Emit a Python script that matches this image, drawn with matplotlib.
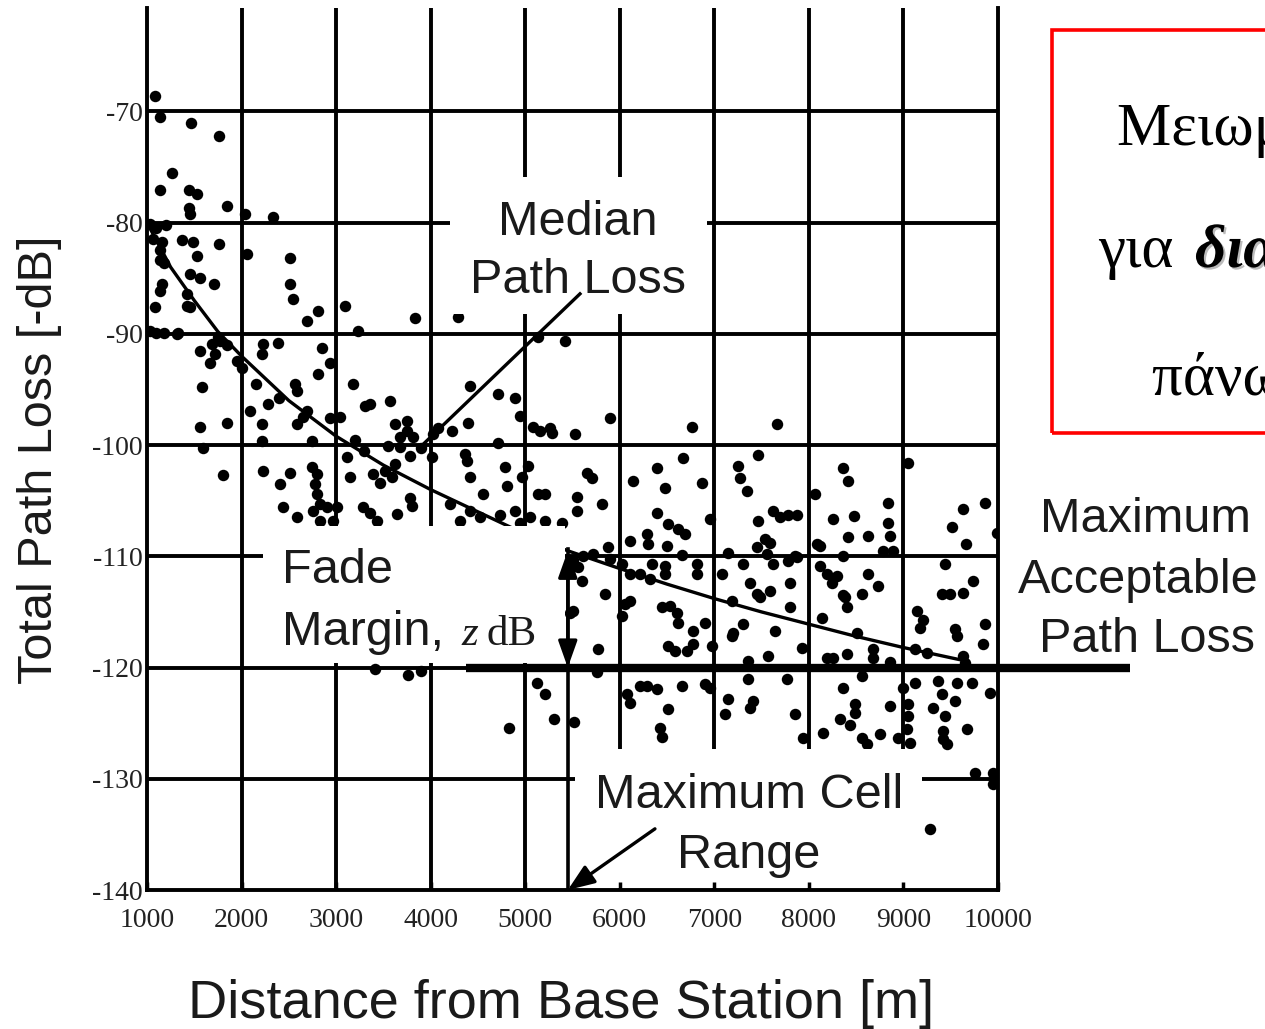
import numpy as np
import matplotlib
matplotlib.use("Agg")
import matplotlib.pyplot as plt
import matplotlib.patheffects as pe
from matplotlib.patches import Rectangle

W, H = 1265, 1029

X_TICKS = [1000, 2000, 3000, 4000, 5000, 6000, 7000, 8000, 9000, 10000]
Y_TICKS = [-140, -130, -120, -110, -100, -90, -80, -70]

# median path loss curve
MEDIAN_D = [1000, 1250, 1500, 1750, 2000, 2500, 3000, 3500, 4000, 4500,
            5000, 5450, 6000, 6500, 7000, 7500, 8000, 8500, 9000, 9600]
MEDIAN_L = [-80.0, -84.0, -87.0, -89.8, -92.0, -96.0, -99.2, -101.8, -104.0, -106.0,
            -108.0, -109.5, -111.1, -112.5, -113.8, -115.0, -116.1, -117.2, -118.2, -119.3]

MAX_LOSS = -120       # maximum acceptable path loss
FADE_TOP = -109.5     # median loss at the cell edge
CELL_RANGE = 5450     # maximum cell range

# measured samples (distance m, loss dB)
CLOSE = [
    (1085, -68.6), (1137, -70.5), (1465, -71.0), (1761, -72.2), (1264, -75.5), (1137, -77.1),
    (1444, -77.1), (1529, -77.4), (1444, -78.7), (1455, -79.2), (1846, -78.5), (2036, -79.2),
    (2332, -79.5), (1030, -80.1), (1100, -80.5), (1200, -80.2), (1060, -81.5), (1158, -81.7),
    (1370, -81.6), (1486, -81.7), (1761, -81.9), (1137, -82.5), (1180, -83.6), (1137, -83.4),
    (1529, -83.0), (2057, -82.8), (2512, -83.2), (1455, -84.6), (1560, -85.0), (1709, -85.5),
    (1158, -85.5), (1137, -86.1), (1423, -86.4), (1420, -87.5), (2512, -85.5), (1085, -87.6),
    (1455, -87.6), (2544, -86.9), (2808, -87.9), (2692, -88.8), (1030, -89.7), (1090, -89.9),
    (1180, -89.9), (1328, -89.9), (1750, -90.3), (1317, -90.0), (1560, -91.5), (1687, -90.9),
    (1772, -90.6), (1846, -91.0), (1666, -92.6), (1719, -91.8), (1952, -92.4), (2005, -93.1),
    (1582, -94.8), (1560, -98.4), (1846, -98.0), (1592, -100.3), (1804, -102.7), (2227, -90.9),
    (2216, -91.8), (2385, -90.8), (2850, -91.3), (2935, -92.6), (2808, -93.6), (2565, -94.5),
    (2586, -95.1), (2150, -94.5), (2400, -95.8), (2089, -96.9), (2280, -96.3), (2216, -98.1),
    (2586, -98.1), (2692, -96.9), (2650, -97.5), (2935, -97.6), (2216, -99.6), (2745, -99.6),
    (2227, -102.3), (2407, -103.5), (2512, -102.5), (2745, -102.0), (2798, -102.6), (2776, -103.5),
    (2798, -104.4), (2830, -105.3), (2438, -105.6), (2586, -106.5), (2755, -105.9), (2903, -105.6),
    (2830, -106.8), (2966, -106.8),
]

MID = [
    (3094, -87.5), (3834, -88.6), (4289, -88.5), (3231, -89.7), (3041, -97.5), (3178, -94.5),
    (3305, -96.5), (3358, -96.3), (3570, -96.0), (3622, -98.1), (3750, -97.8), (3750, -98.7),
    (3675, -99.3), (3813, -99.3), (3200, -99.5), (3300, -100.5), (3900, -100.3), (3549, -100.1),
    (3675, -100.2), (3781, -101.0), (3622, -101.7), (3517, -102.3), (3115, -101.1), (3147, -102.9),
    (3390, -102.6), (3464, -103.4), (3591, -102.9), (3009, -105.6), (3284, -105.6), (3358, -106.1),
    (3432, -106.8), (3644, -106.2), (3781, -104.8), (3802, -105.5), (4014, -101.1), (4225, -98.7),
    (4395, -98.0), (4416, -94.7), (4024, -99.0), (4077, -98.5), (4363, -100.8), (4384, -101.4),
    (4416, -102.9), (4712, -95.4), (4892, -95.8), (4712, -99.8), (4786, -102.0), (4807, -103.7),
    (4553, -104.4), (4945, -97.4), (5029, -101.9), (4966, -102.9), (5135, -104.4), (5209, -104.4),
    (5082, -98.4), (5156, -98.7), (5262, -98.5), (5283, -98.9), (5526, -99.0), (5420, -90.6),
    (5135, -90.3), (4204, -105.3), (4416, -105.9), (4522, -106.5), (4733, -106.3), (4892, -105.9),
    (5050, -106.5), (4945, -107.0), (4310, -106.8), (5388, -107.0), (5209, -106.8), (5547, -104.7),
    (5547, -105.9), (3408, -120.1), (3764, -120.7), (3898, -120.3), (4824, -125.4), (5126, -121.4),
    (5209, -122.4), (5300, -124.6), (5511, -124.9),
]

FAR_HIGH = [
    (5896, -97.6), (6763, -98.4), (7662, -98.1), (5653, -102.5), (5706, -103.0), (5812, -105.3),
    (6139, -103.2), (6393, -102.1), (6478, -103.9), (6393, -106.1), (6510, -107.1), (6616, -107.5),
    (6689, -108.0), (6668, -101.2), (6869, -103.4), (6954, -106.6), (6108, -108.6), (6288, -108.0),
    (6298, -108.9), (6499, -109.1), (6658, -109.9), (7250, -101.9), (7271, -103.0), (7345, -104.1),
    (7461, -100.9), (7620, -105.9), (7694, -106.5), (7779, -106.3), (7874, -106.3), (7461, -106.8),
    (7535, -108.4), (7588, -108.8), (8085, -108.9), (7144, -109.7), (7450, -109.2), (7556, -109.8),
    (7853, -110.0), (8064, -104.4), (8360, -102.1), (8413, -103.2), (8255, -106.6), (8477, -106.4),
    (8413, -108.3), (8625, -108.2), (8836, -105.2), (8836, -107.0), (8858, -108.2), (8117, -109.1),
    (8360, -110.0), (8783, -109.5), (8889, -109.5), (9048, -101.6), (9629, -105.7), (9862, -105.2),
    (9513, -107.4), (9661, -108.9), (9989, -107.9),
]

FAR_MID = [
    (5500, -110.3), (5560, -111.0), (5611, -110.0), (5717, -109.8), (5875, -109.2), (5900, -110.2),
    (5600, -112.2), (5843, -113.4), (6023, -110.7), (6108, -111.6), (6214, -111.6), (6320, -112.0),
    (6478, -111.6), (6341, -110.7), (6478, -110.9), (6816, -110.7), (6816, -111.6), (7080, -111.6),
    (7303, -110.7), (7377, -112.4), (7450, -113.4), (7588, -113.1), (7620, -110.7), (7779, -110.4),
    (7874, -110.1), (7800, -112.4), (8117, -110.9), (8191, -111.6), (8297, -111.8), (8244, -112.4),
    (8360, -113.5), (8561, -113.4), (8625, -111.6), (8730, -112.7), (9439, -110.7), (9735, -112.2),
    (9407, -113.4), (9492, -113.4), (9629, -113.3), (6055, -114.3), (6108, -114.0), (6023, -115.4),
    (5505, -114.9), (5473, -115.1), (5770, -118.3), (6446, -114.6), (6531, -114.5), (6605, -115.1),
    (6615, -116.0), (6901, -116.0), (6774, -116.7), (6510, -118.1), (6584, -118.5), (6711, -118.5),
    (6774, -117.9), (6975, -118.1), (7186, -114.0), (7482, -113.7), (7303, -116.1), (7197, -116.9),
    (7186, -117.2), (7641, -116.7), (7356, -119.4), (7567, -119.0), (7800, -114.6), (7927, -118.2),
    (8138, -115.5), (8191, -119.1), (8255, -119.1), (8403, -118.8), (8382, -113.7), (8403, -114.6),
    (8508, -116.9), (8678, -118.3), (8678, -119.1), (8858, -119.5), (9143, -114.9), (9175, -116.4),
    (9206, -115.7), (9545, -116.5), (9566, -117.2), (9862, -116.1), (9841, -117.9), (9122, -118.3),
    (9249, -118.7), (9629, -119.0), (9650, -119.6),
]

FAR_LOW = [
    (5754, -120.4), (6076, -122.4), (6108, -123.2), (6214, -121.7), (6288, -121.7), (6393, -121.9),
    (6658, -121.7), (6901, -121.5), (6954, -121.8), (6510, -123.7), (6425, -125.4), (6446, -126.2),
    (7144, -122.8), (7112, -124.2), (7408, -123.0), (7377, -123.6), (7356, -121.0), (7768, -121.0),
    (7853, -124.2), (7937, -126.3), (8149, -125.9), (8360, -121.8), (8329, -124.6), (8435, -125.2),
    (8487, -123.3), (8487, -124.1), (8561, -120.8), (8561, -126.3), (8614, -126.9), (8752, -126.0),
    (8858, -123.5), (8942, -126.3), (8995, -121.8), (9048, -123.3), (9048, -124.4), (9037, -125.5),
    (9069, -126.8), (9122, -121.4), (9365, -121.2), (9407, -122.4), (9566, -121.4), (9725, -121.4),
    (9312, -123.6), (9439, -124.4), (9545, -123.0), (9915, -122.3), (9418, -125.7), (9418, -126.4),
    (9460, -126.9), (9672, -125.5), (9756, -129.5), (9947, -129.5), (9947, -130.5), (9280, -134.5),
]

INK = "#1a1a1a"
SANS = ["Liberation Sans", "DejaVu Sans"]
SERIF = ["Liberation Serif", "DejaVu Serif"]

plt.rcParams["font.family"] = SANS
plt.rcParams["axes.unicode_minus"] = False


def fx(px):
    return px / W


def fy(py):
    return 1 - py / H


def main():
    fig = plt.figure(figsize=(W / 100, H / 100), dpi=100)
    ax = fig.add_axes([fx(147), fy(890), (998 - 147) / W, (890 - 8) / H])
    ax.set_xlim(1000, 10000)
    ax.set_ylim(-140, -60.7)

    # heavy grid, drawn by hand so the label masks can sit on top of it
    for x in X_TICKS[1:-1]:
        ax.axvline(x, color="black", lw=2.8, zorder=1)
    for y in Y_TICKS[1:]:
        ax.axhline(y, color="black", lw=2.8, zorder=1)

    pts = np.array(CLOSE + MID + FAR_HIGH + FAR_MID + FAR_LOW)
    ax.scatter(pts[:, 0], pts[:, 1], s=68, c="black", marker="o", lw=0, zorder=2)

    ax.plot(MEDIAN_D, MEDIAN_L, color="black", lw=2.4, zorder=2.05)

    # white label backgrounds (d0, d1, l0, l1)
    for d0, d1, l0, l1 in [(4204, 6922, -88.2, -75.9),
                           (2227, 5421, -119.6, -107.3),
                           (5526, 9196, -139.8, -127.3)]:
        ax.add_patch(Rectangle((d0, l0), d1 - d0, l1 - l0, fc="white", ec="none", zorder=2.2))

    for side in ("left", "right", "bottom"):
        ax.spines[side].set_linewidth(2.8)
    ax.spines["top"].set_visible(False)
    ax.set_axisbelow(False)

    ax.set_xticks(X_TICKS)
    ax.set_xticklabels([str(v) for v in X_TICKS], fontfamily=SERIF, fontsize=20, color="#222222")
    ax.set_yticks(Y_TICKS)
    ax.set_yticklabels([str(v) for v in Y_TICKS], fontfamily=SERIF, fontsize=20, color="#222222")
    ax.tick_params(axis="x", direction="in", length=6, width=2.5, pad=13)
    ax.tick_params(axis="y", length=0, pad=3)

    # maximum acceptable path loss line, runs past the frame
    ax.plot([0.375, 1.155], [MAX_LOSS, MAX_LOSS], transform=ax.get_yaxis_transform(),
            color="black", lw=6, clip_on=False, solid_capstyle="butt", zorder=3)

    # fade margin arrow and cell range marker
    ax.plot([CELL_RANGE, CELL_RANGE], [FADE_TOP + 0.2, -140], color="black", lw=2.6, zorder=3)
    ax.annotate("", xy=(CELL_RANGE, FADE_TOP), xytext=(CELL_RANGE, MAX_LOSS),
                arrowprops=dict(arrowstyle="<|-|>,head_length=0.9,head_width=0.32",
                                color="black", lw=2.4, mutation_scale=18,
                                shrinkA=0, shrinkB=0), zorder=3)
    ax.annotate("", xy=(CELL_RANGE, -140), xytext=(6372, -134.5),
                arrowprops=dict(arrowstyle="-|>,head_length=0.9,head_width=0.35",
                                color="black", lw=2.4, mutation_scale=18,
                                shrinkA=0, shrinkB=0), zorder=3, annotation_clip=False)
    # median leader line
    ax.plot([5579, 3887], [-86.4, -100.2], color="black", lw=2.4, zorder=3)

    txt = dict(color=INK, fontsize=35, va="baseline", zorder=4)
    fig.text(fx(578), fy(235), "Median", ha="center", **txt)
    fig.text(fx(578), fy(293), "Path Loss", ha="center", **txt)
    fig.text(fx(282), fy(583), "Fade", ha="left", **txt)
    fig.text(fx(282), fy(645), "Margin,", ha="left", **txt)
    fig.text(fx(461), fy(645), "z", ha="left", color=INK, fontsize=31, va="baseline",
             family=SERIF, style="italic")
    fig.text(fx(487), fy(645), "dB", ha="left", color=INK, fontsize=31, va="baseline",
             family=SERIF)
    fig.text(fx(749), fy(808), "Maximum Cell", ha="center", **txt)
    fig.text(fx(749), fy(868), "Range", ha="center", **txt)
    fig.text(fx(1146), fy(532), "Maximum", ha="center", **txt)
    fig.text(fx(1138), fy(593), "Acceptable", ha="center", **txt)
    fig.text(fx(1147), fy(652), "Path Loss", ha="center", **txt)

    fig.text(fx(40), fy(460), "Total Path Loss [-dB]", rotation=90, ha="center", va="center",
             fontsize=35, color=INK)
    fig.text(fx(561), fy(1004), "Distance from Base Station [m]", ha="center", va="center",
             fontsize=39, color=INK)

    # red call-out box on the right, cut off by the page edge as in the source slide
    fig.add_artist(Rectangle((fx(1052), fy(433)), (1400 - 1052) / W, (433 - 30) / H,
                             transform=fig.transFigure, fill=False, ec="#ff0000", lw=2.6))
    greek = dict(family=SERIF, fontsize=44, color="black", va="baseline", ha="left")
    fig.text(fx(1117), fy(145), "Μειωμένη εμβέλεια", **greek)
    fig.text(fx(1098), fy(267), "για ", **greek)
    fig.text(fx(1195), fy(267), "διαλείψεις", weight="bold", style="italic",
             path_effects=[pe.SimplePatchShadow(offset=(1.5, -1.5), shadow_rgbFace="#aaaaaa",
                                                alpha=0.8), pe.Normal()], **greek)
    fig.text(fx(1152), fy(395), "πάνω από z dB", **greek)

    fig.savefig("out.png", dpi=100)


if __name__ == "__main__":
    main()
